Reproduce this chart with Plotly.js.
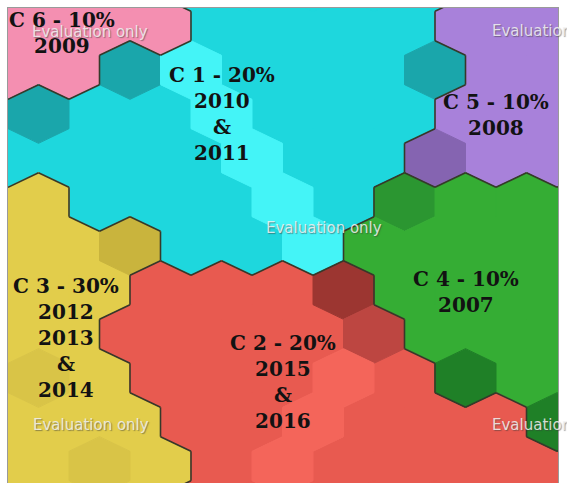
<!DOCTYPE html>
<html>
<head>
<meta charset="utf-8">
<script src="https://cdn.plot.ly/plotly-3.0.1.min.js"></script>
<style>html,body{margin:0;padding:0;background:#fff;}#chart{width:567px;height:483px;}</style>
</head>
<body>
<div id="chart"></div>
<script>
// ---- DATA: SOM hexagon grid, one string per row (row numbers below), one letter per unit ----
const rowNumbers = [-1, 0, 1, 2, 3, 4, 5, 6, 7, 8, 9, 10, 11];
const rowCodes = [
  "PPPcccccvv",
  "PPPccccvvv",
  "PPtlccctvv",
  "tcclcccvvv",
  "cccclccwvv",
  "yccclchggg",
  "yyocclgggg",
  "yyrrrdgggg",
  "yyrrrrmggg",
  "syrrrerkgg",
  "yyyrrerrrk",
  "ysyrerrrrr",
  "yyyrrrrrrr"
];
// unit code -> cluster number
const unitCluster = {P:6, c:1, l:1, t:1, v:5, w:5, g:4, h:4, k:4, y:3, o:3, s:3, r:2, d:2, m:2, e:2};
// cluster labels
const clusterIds   = [6, 1, 5, 3, 2, 4];
const clusterNames = ["C 6 - 10%", "C 1 - 20%", "C 5 - 10%", "C 3 - 30%", "C 2 - 20%", "C 4 - 10%"];
const clusterYears = [["2009"], ["2010", "&", "2011"], ["2008"], ["2012", "2013", "&", "2014"], ["2015", "&", "2016"], ["2007"]];
const watermark = "Evaluation only";

// ---- STYLE ----
const unitColor = {
  P:'#f48fb1', c:'#1ed7dd', l:'#44f4f7', t:'#1aa6ab',
  v:'#a881da', w:'#8564b1',
  g:'#35ad34', h:'#2b9631', k:'#1f8027',
  y:'#e2cd4b', o:'#c9b43d', s:'#d9c447',
  r:'#e85a50', d:'#9c3631', m:'#bd4641', e:'#f4655a'
};
const labelPos = {6:[0.885,0.15], 1:[3.51,2.0], 5:[8.0,2.03], 3:[0.95,7.08], 2:[4.51,8.09], 4:[7.51,6.05]};
const markPos = [[1.344,0.14,'center'],[5.18,4.59,'center'],[7.9,0.12,'left'],[1.36,9.07,'center'],[7.9,9.07,'left']];

// ---- build cells ----
const cells = {};
rowNumbers.forEach((rowNo, ri) => {
  const odd = Math.abs(rowNo) % 2 === 1;
  rowCodes[ri].split('').forEach((code, c) => {
    const u2 = odd ? 2 * c : 2 * c + 1;       // twice the column coordinate
    cells[u2 + '_' + rowNo] = {u: u2 / 2, v: rowNo, code: code};
  });
});

// hexagon fills grouped by code
const groups = {};
Object.values(cells).forEach(cell => {
  const g = groups[cell.code] || (groups[cell.code] = {x: [], y: []});
  const {u, v} = cell;
  const vx = [u, u + 0.5, u + 0.5, u, u - 0.5, u - 0.5, u];
  const vy = [v - 2/3, v - 1/3, v + 1/3, v + 2/3, v + 1/3, v - 1/3, v - 2/3];
  g.x.push(...vx, null); g.y.push(...vy, null);
});
const traces = Object.keys(groups).map(code => ({
  type: 'scatter', mode: 'lines', x: groups[code].x, y: groups[code].y,
  fill: 'toself', fillcolor: unitColor[code],
  line: {color: unitColor[code], width: 1}, hoverinfo: 'skip', showlegend: false
}));

// cluster boundary lines
const bx = [], by = [];
const dirs = [
  [2, 0, [0.5, -1/3], [0.5, 1/3]],
  [1, 1, [0, 2/3], [0.5, 1/3]],
  [-1, 1, [0, 2/3], [-0.5, 1/3]]
];
Object.values(cells).forEach(cell => {
  const u2 = Math.round(cell.u * 2);
  dirs.forEach(([du2, dv, a, b]) => {
    const nb = cells[(u2 + du2) + '_' + (cell.v + dv)];
    if (nb && unitCluster[nb.code] !== unitCluster[cell.code]) {
      bx.push(cell.u + a[0], cell.u + b[0], null);
      by.push(cell.v + a[1], cell.v + b[1], null);
    }
  });
});
traces.push({type: 'scatter', mode: 'lines', x: bx, y: by,
  line: {color: '#36392a', width: 1.6}, hoverinfo: 'skip', showlegend: false});

// annotations
const annotations = [];
markPos.forEach(([x, y, anchor]) => annotations.push({
  x: x, y: y, xref: 'x', yref: 'y', text: watermark, showarrow: false,
  xanchor: anchor, yanchor: 'middle',
  font: {family: 'DejaVu Sans', size: 15, color: 'rgba(242,242,242,0.85)', shadow: '1px 1px 1px rgba(60,60,60,0.6)'}
}));
clusterIds.forEach((id, k) => {
  annotations.push({
    x: labelPos[id][0], y: labelPos[id][1], xref: 'x', yref: 'y',
    text: [clusterNames[k]].concat(clusterYears[k]).join('<br>'),
    showarrow: false, xanchor: 'center', yanchor: 'middle', align: 'center',
    font: {family: 'DejaVu Serif', size: 20, weight: 'bold', color: '#121212'}
  });
});

const axisCommon = {showgrid: false, zeroline: false, showticklabels: false, ticks: '',
  showline: true, mirror: true, linecolor: '#9a9a9a', linewidth: 1, fixedrange: true};
const layout = {
  width: 567, height: 483,
  margin: {l: 8, r: 9, t: 8, b: 0},
  paper_bgcolor: '#ffffff', plot_bgcolor: '#ffffff',
  xaxis: Object.assign({range: [0, 550 / 61]}, axisCommon),
  yaxis: Object.assign({range: [(483 - 26) / 44, (8 - 26) / 44]}, axisCommon),
  annotations: annotations,
  showlegend: false
};
Plotly.newPlot('chart', traces, layout, {staticPlot: true, displayModeBar: false});
</script>
</body>
</html>
